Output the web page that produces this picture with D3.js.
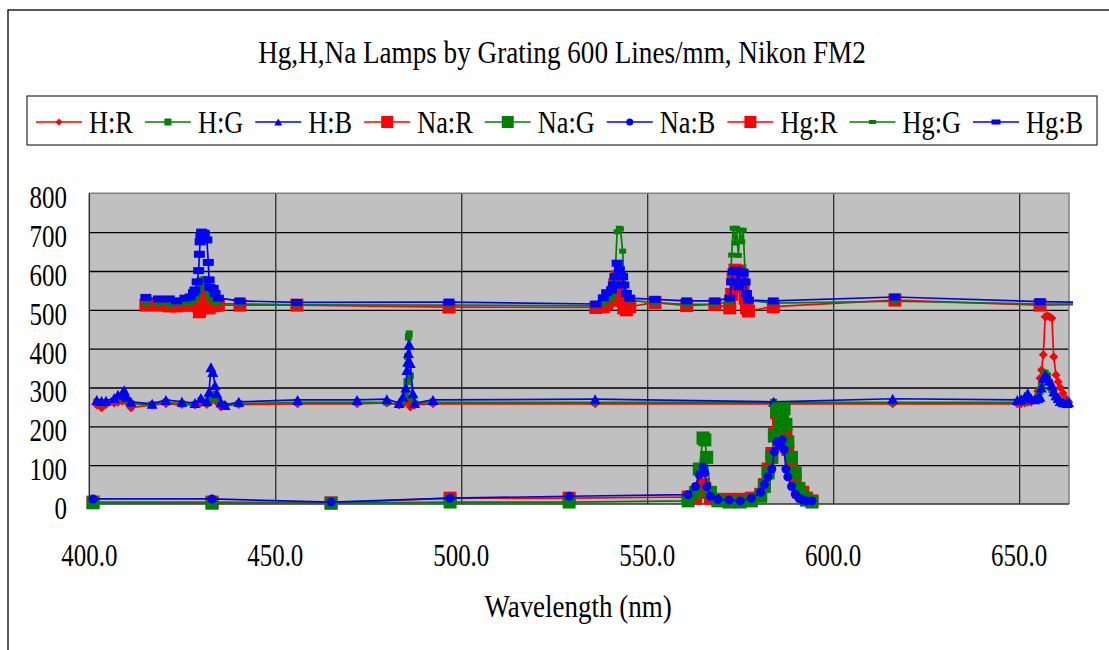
<!DOCTYPE html>
<html>
<head>
<meta charset="utf-8">
<script src="https://cdn.jsdelivr.net/npm/d3@7"></script>
<style>
  body { margin: 0; background: #fff; }
  text { font-family: 'Liberation Serif', 'Times New Roman', serif; fill: #000; }
</style>
</head>
<body>
<div id="chart"></div>
<script>
// --- data ---
const xTicks = [400, 450, 500, 550, 600, 650]
const yTicks = [0, 100, 200, 300, 400, 500, 600, 700, 800]

// H lamp wavelengths (nm) and its R/G/B readings
const hX = [
  402.0, 403.3, 404.5, 406.7, 407.7, 408.8, 409.4, 410.1, 411.2, 416.9,
  420.6, 424.9, 428.4, 430.0, 431.6, 432.2, 432.7, 433.2, 433.8, 434.3,
  435.4, 436.5, 440.2, 456.0, 472.0, 480.0, 483.3, 484.3, 485.1, 485.4,
  485.6, 485.8, 486.0, 486.3, 487.0, 487.5, 492.4, 536.0, 584.0, 616.0,
  649.5, 650.5, 651.5, 652.3, 653.2, 654.2, 655.0, 655.6, 656.0, 656.5,
  657.0, 657.6, 658.2, 658.8, 659.3, 659.9, 660.5, 661.0, 661.8, 662.8, 663.3]
const hR = [
  255, 248, 256, 260, 262, 265, 268, 262, 248, 255,
  258, 256, 255, 260, 256, 262, 265, 270, 268, 262,
  250, 255, 256, 258, 258, 260, 255, 258, 262, 265,
  268, 270, 265, 250, 256, 255, 258, 258, 258, 258,
  258, 258, 260, 262, 262, 268, 290, 324, 345, 384,
  482, 485, 482, 478, 379, 332, 315, 300, 285, 270, 262]
const hG = [
  262, 260, 261, 266, 272, 276, 280, 268, 258, 256,
  262, 258, 256, 266, 260, 270, 276, 282, 278, 270,
  257, 252, 258, 262, 262, 262, 256, 265, 280, 315,
  380, 430, 438, 330, 270, 258, 262, 262, 262, 262,
  262, 262, 265, 270, 268, 268, 275, 290, 302, 320,
  337, 330, 312, 295, 285, 275, 270, 265, 262, 260, 258]
const hB = [
  268, 265, 266, 273, 281, 285, 293, 276, 263, 258,
  268, 263, 260, 273, 265, 289, 352, 340, 306, 285,
  262, 255, 263, 268, 268, 270, 260, 276, 300, 345,
  366, 389, 412, 363, 285, 260, 268, 270, 263, 271,
  268, 270, 276, 285, 272, 270, 273, 276, 300, 325,
  332, 325, 318, 306, 290, 280, 273, 265, 262, 260, 262]

// Na lamp
const naX = [
  401, 433, 465, 497, 529, 561, 563, 564, 565, 565.5,
  566, 567, 569, 572, 575, 578, 580.5, 581.5, 582.5, 583.5,
  584.2, 584.8, 585.3, 585.8, 586.3, 586.8, 587.3, 587.8, 588.8, 589.8,
  590.8, 591.8, 592.8, 594.3]
const naR = [
  5, 5, 3, 15, 15, 18, 15, 35, 50, 40,
  30, 15, 12, 12, 12, 15, 25, 50, 90, 130,
  180, 235, 215, 185, 220, 205, 180, 140, 100, 60,
  30, 30, 15, 8]
const naG = [
  3, 2, 2, 5, 5, 8, 30, 90, 170, 165,
  120, 30, 8, 5, 5, 8, 20, 45, 80, 120,
  175, 240, 245, 200, 235, 245, 205, 160, 120, 80,
  40, 20, 10, 5]
const naB = [
  13, 13, 5, 15, 20, 24, 45, 75, 95, 80,
  45, 20, 12, 10, 8, 15, 30, 50, 70, 90,
  135, 160, 155, 150, 165, 140, 90, 70, 45, 25,
  15, 10, 8, 8]

// Hg lamp (last reading sits just past the axis end)
const hgX = [
  415.2, 418.6, 421.5, 423.5, 425.7, 427.1, 428.0, 428.4, 429.0, 429.4,
  429.6, 429.8, 430.0, 430.2, 430.9, 431.6, 432.0, 432.2, 432.4, 433.3,
  433.8, 434.7, 440.5, 455.8, 496.7, 536.2, 538.2, 539.1, 540.4, 540.9,
  541.3, 541.9, 542.5, 542.8, 543.4, 543.7, 544.4, 545.3, 552.1, 560.6,
  568.2, 572.2, 572.7, 573.1, 573.6, 574.0, 574.5, 574.9, 575.4, 575.8,
  576.3, 576.7, 577.2, 583.9, 616.6, 655.6, 668.0]
const hgR = [
  512, 512, 510, 510, 512, 512, 515, 518, 520, 510,
  495, 505, 520, 540, 555, 545, 520, 505, 510, 512,
  512, 512, 512, 512, 507, 506, 508, 515, 525, 545,
  565, 585, 575, 550, 525, 505, 500, 508, 519, 511,
  514, 505, 540, 580, 602, 590, 560, 600, 585, 560,
  530, 505, 497, 508, 525, 512, 514]
const hgG = [
  515, 515, 514, 515, 516, 518, 522, 528, 535, 545,
  555, 565, 572, 578, 581, 565, 548, 538, 530, 522,
  518, 516, 515, 513, 512, 510, 515, 522, 530, 545,
  572, 701, 710, 708, 651, 590, 545, 525, 518, 514,
  515, 520, 641, 710, 672, 710, 640, 705, 675, 705,
  600, 545, 525, 517, 522, 515, 515]
const hgB = [
  532, 528, 528, 523, 530, 533, 544, 551, 572, 601,
  643, 675, 687, 700, 697, 680, 622, 577, 558, 555,
  542, 530, 523, 519, 520, 515, 531, 544, 551, 564,
  585, 620, 603, 590, 585, 564, 542, 530, 527, 523,
  523, 530, 572, 598, 600, 602, 559, 598, 596, 594,
  572, 542, 525, 523, 533, 521, 519]

const seriesNames = ['H:R', 'H:G', 'H:B', 'Na:R', 'Na:G', 'Na:B', 'Hg:R', 'Hg:G', 'Hg:B']
const seriesX = [hX, hX, hX, naX, naX, naX, hgX, hgX, hgX]
const seriesY = [hR, hG, hB, naR, naG, naB, hgR, hgG, hgB]

// --- look ---
const RED = '#ff0000', GREEN = '#008000', BLUE = '#0000ff'
const colors = [RED, GREEN, BLUE, RED, GREEN, BLUE, RED, GREEN, BLUE]
// marker: [shape, width, height] in plot, and in legend
const markers = [
  ['diamond', 9, 9], ['square', 7, 7], ['triangle', 11, 10],
  ['square', 13, 13], ['square', 13, 13], ['circle', 9, 9],
  ['square', 13, 13], ['rect', 7, 5], ['rect', 11, 7]
]
const legendMarkers = [
  ['diamond', 7, 7], ['square', 7, 7], ['triangle', 8, 7],
  ['square', 12, 12], ['square', 12, 12], ['circle', 7, 7],
  ['square', 12, 12], ['rect', 7, 4], ['rect', 9, 5]
]

function markerPath (shape, w, h) {
  const a = w / 2, b = h / 2
  if (shape === 'diamond') return `M0,${-b}L${a},0L0,${b}L${-a},0Z`
  if (shape === 'triangle') return `M0,${-b}L${a},${b}L${-a},${b}Z`
  if (shape === 'circle') return d3.symbol(d3.symbolCircle, Math.PI * a * a)()
  return `M${-a},${-b}H${a}V${b}H${-a}Z`
}

const width = 1109
const height = 650
const svg = d3.select('#chart').append('svg')
  .attr('width', width)
  .attr('height', height)

// outer chart frame (runs off the right and bottom of the picture)
svg.append('rect')
  .attr('x', 8).attr('y', 10)
  .attr('width', 1110).attr('height', 650)
  .attr('fill', 'none').attr('stroke', '#000').attr('stroke-width', 1.3)

function label (g, x, y, txt, anchor, size, sx) {
  return g.append('text')
    .attr('transform', `translate(${x},${y}) scale(${sx},1)`)
    .attr('text-anchor', anchor)
    .style('font-size', size + 'px')
    .text(txt)
}

label(svg, 562, 63, 'Hg,H,Na Lamps by Grating 600 Lines/mm, Nikon FM2', 'middle', 31, 0.876)

const plot = { left: 89.3, top: 193.3, right: 1069, bottom: 504 }
const x = d3.scaleLinear().domain([400, 663.4]).range([plot.left, plot.right])
const y = d3.scaleLinear().domain([0, 800]).range([plot.bottom, plot.top])

svg.append('rect')
  .attr('x', plot.left).attr('y', plot.top)
  .attr('width', plot.right - plot.left).attr('height', plot.bottom - plot.top)
  .attr('fill', '#c0c0c0')

// gridlines through the axis generators
svg.append('g')
  .attr('transform', `translate(${plot.left},0)`)
  .call(d3.axisLeft(y).tickValues(yTicks.slice(1, -1)).tickSize(-(plot.right - plot.left)).tickFormat(''))
  .call(g => g.select('.domain').remove())
  .call(g => g.selectAll('line').attr('stroke', '#000').attr('stroke-width', 1.3))
svg.append('g')
  .attr('transform', `translate(0,${plot.bottom})`)
  .call(d3.axisBottom(x).tickValues(xTicks.slice(1)).tickSize(-(plot.bottom - plot.top)).tickFormat(''))
  .call(g => g.select('.domain').remove())
  .call(g => g.selectAll('line').attr('stroke', '#222').attr('stroke-width', 1.2))

// plot border
svg.append('path')
  .attr('d', `M${plot.left},${plot.top}H${plot.right}V${plot.bottom}`)
  .attr('fill', 'none').attr('stroke', '#808080').attr('stroke-width', 1.5)
svg.append('path')
  .attr('d', `M${plot.left},${plot.top}V${plot.bottom}H${plot.right}`)
  .attr('fill', 'none').attr('stroke', '#333').attr('stroke-width', 1.5)

// tick labels
yTicks.forEach(v => label(svg, 67, y(v) + 15, String(v), 'end', 32, 0.78))
xTicks.forEach(v => label(svg, x(v), 566, d3.format('.1f')(v), 'middle', 32, 0.78))
label(svg, 578, 617, 'Wavelength (nm)', 'middle', 31, 0.87)

// lines may run a few pixels past the plot edge, as in the original
svg.append('clipPath').attr('id', 'lineClip')
  .append('rect').attr('x', 0).attr('y', 0).attr('width', plot.right + 4).attr('height', height)
svg.append('clipPath').attr('id', 'markClip')
  .append('rect').attr('x', 0).attr('y', 0).attr('width', plot.right + 7).attr('height', height)

// series: line then markers, in legend order
const line = d3.line().x(d => x(d[0])).y(d => y(d[1]))
seriesNames.forEach((name, i) => {
  const pts = seriesX[i].map((v, j) => [v, seriesY[i][j]])
  const g = svg.append('g')
  g.append('path')
    .datum(pts)
    .attr('d', line)
    .attr('clip-path', 'url(#lineClip)')
    .attr('fill', 'none')
    .attr('stroke', colors[i])
    .attr('stroke-width', 1.7)
  const [shape, w, h] = markers[i]
  g.append('g')
    .attr('clip-path', 'url(#markClip)')
    .selectAll('path')
    .data(pts)
    .enter()
    .append('path')
    .attr('transform', d => `translate(${x(d[0])},${y(d[1])})`)
    .attr('d', markerPath(shape, w, h))
    .attr('fill', colors[i])
})

// legend
svg.append('rect')
  .attr('x', 27).attr('y', 96)
  .attr('width', 1070).attr('height', 49)
  .attr('fill', '#fff').attr('stroke', '#000').attr('stroke-width', 1)
let lx = 36
seriesNames.forEach((name, i) => {
  svg.append('line')
    .attr('x1', lx).attr('x2', lx + 46)
    .attr('y1', 122).attr('y2', 122)
    .attr('stroke', colors[i]).attr('stroke-width', 1.5)
  const [shape, w, h] = legendMarkers[i]
  svg.append('path')
    .attr('transform', `translate(${lx + 23},122)`)
    .attr('d', markerPath(shape, w, h))
    .attr('fill', colors[i])
  const t = label(svg, lx + 53, 133, name, 'start', 31, 0.85)
  lx += 53 + t.node().getComputedTextLength() * 0.85 + 12
})
</script>
</body>
</html>
